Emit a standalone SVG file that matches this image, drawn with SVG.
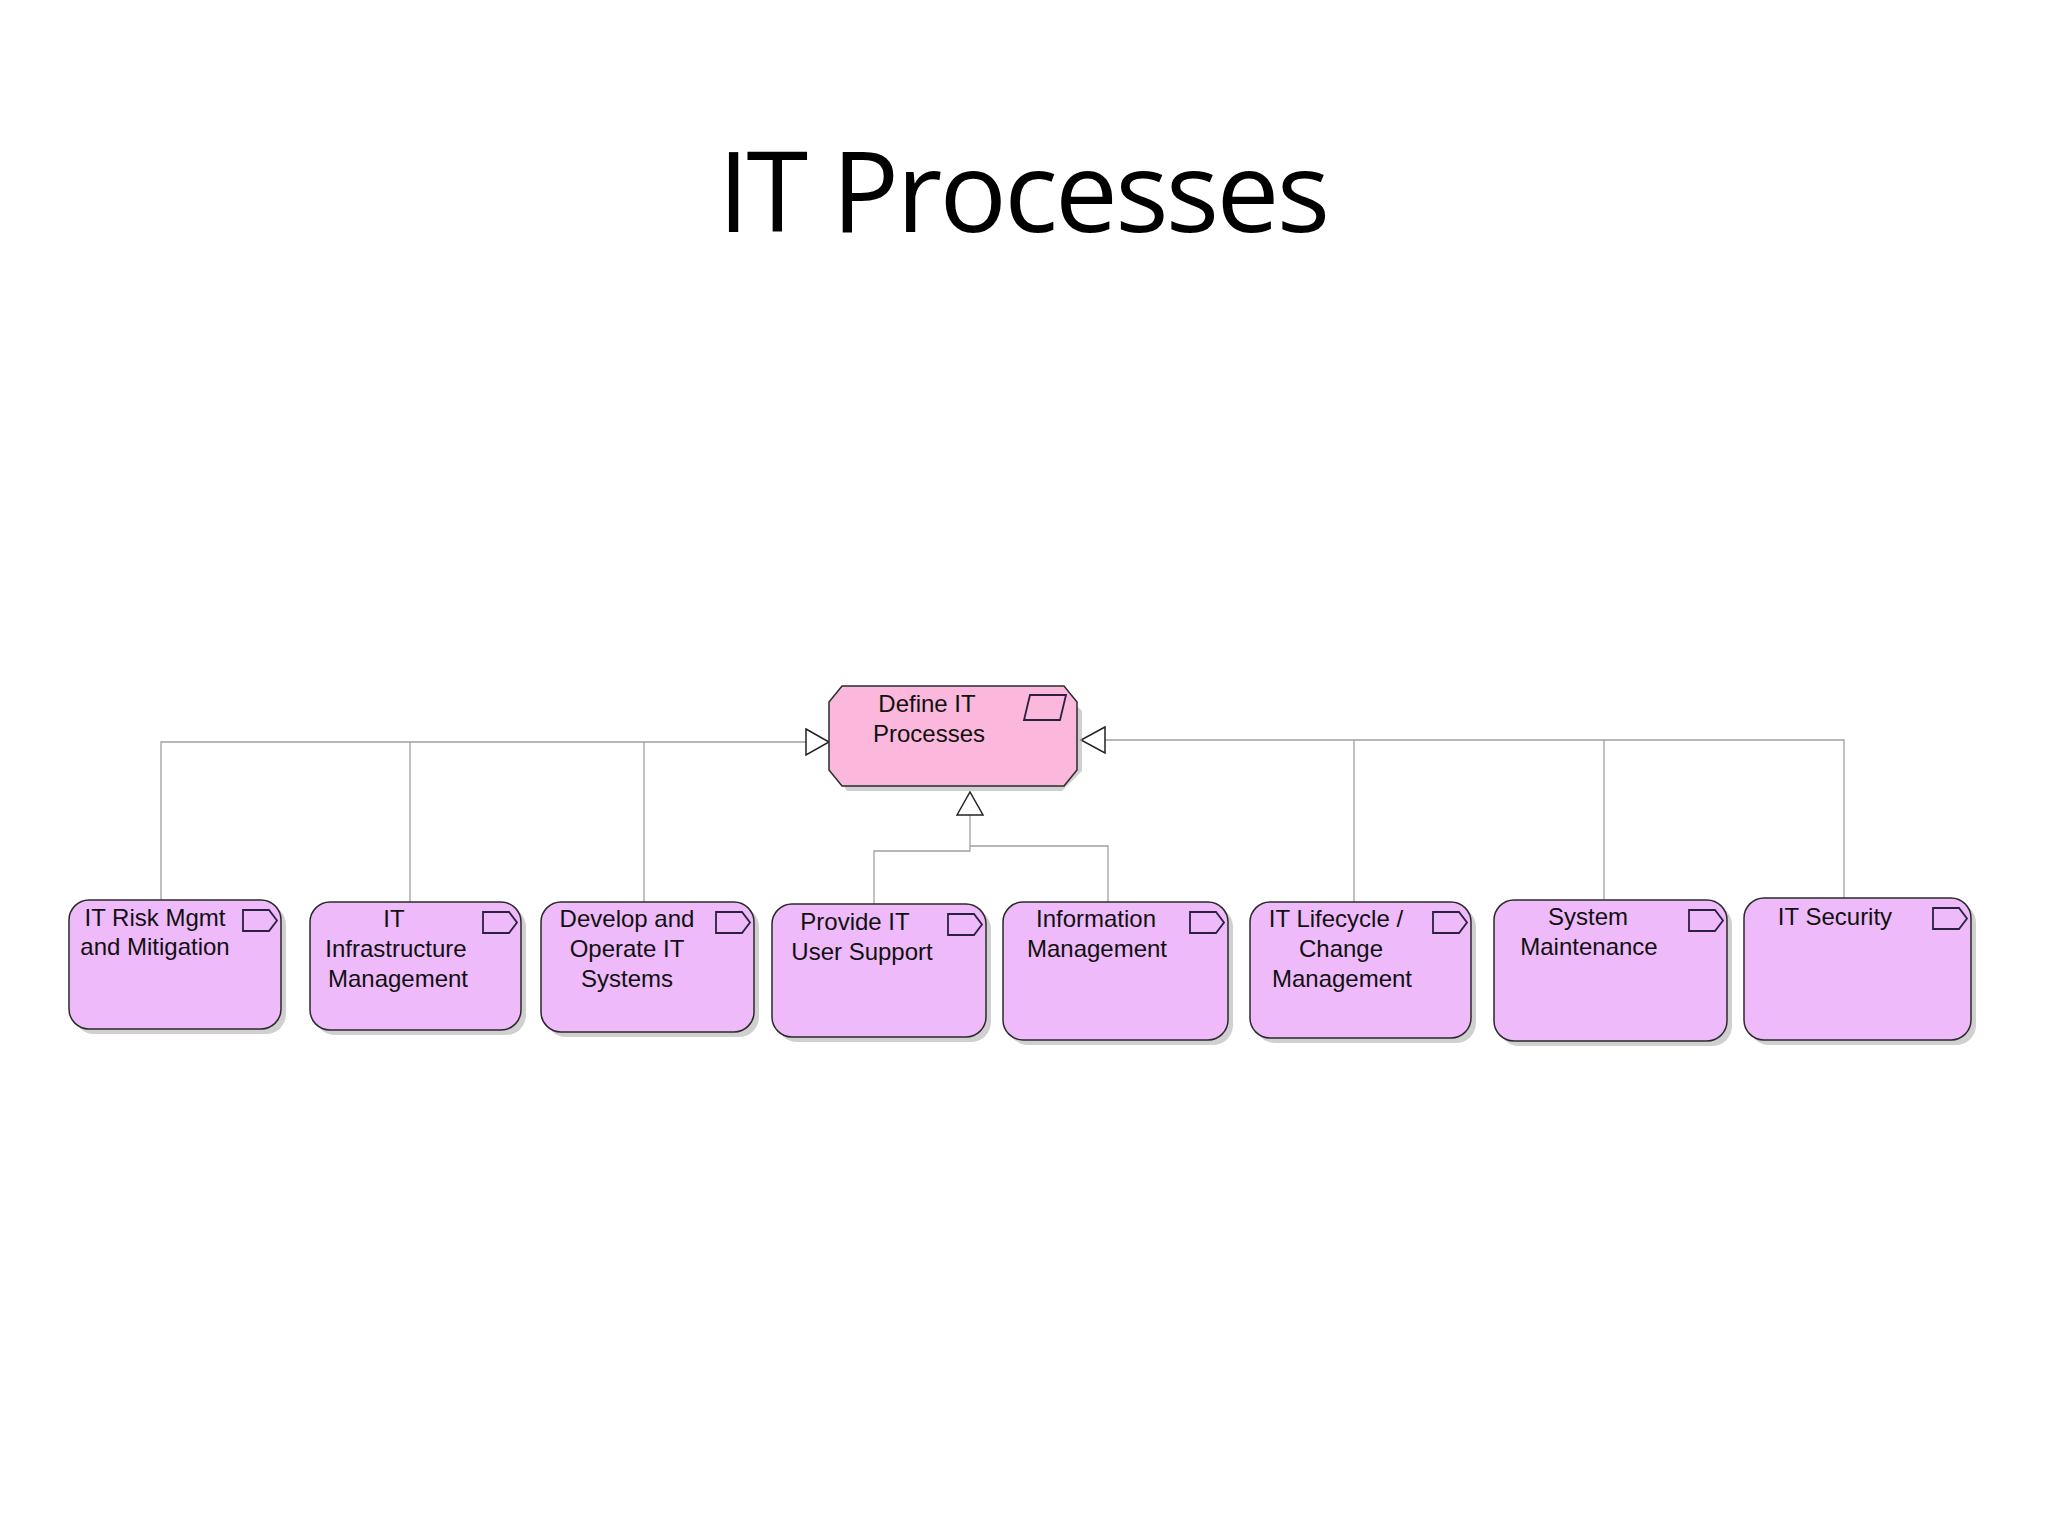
<svg xmlns="http://www.w3.org/2000/svg" width="2048" height="1536" viewBox="0 0 2048 1536">
<style>
.n{fill:#efbafa;stroke:#2a2a2a;stroke-width:1.5}
.sh{fill:#b0b0b0;opacity:.6}
.ic{fill:none;stroke:#2a2040;stroke-width:1.8}
.t{font-family:"Liberation Sans",Arial,sans-serif;font-size:24px;fill:#111;text-anchor:middle}
.c{fill:none;stroke:#a0a0a0;stroke-width:1.3}
.ah{fill:#fff;stroke:#222;stroke-width:1.5}
</style>
<defs>
<path id="icon" d="M0,0 H26 L34,10.5 L26,21 H0 Z" class="ic"/>
</defs>
<rect width="2048" height="1536" fill="#fff"/>
<text x="1024" y="232" font-family="'Open Sans',sans-serif" font-size="112" text-anchor="middle" textLength="612" fill="#000">IT Processes</text>
<g id="connectors">
<path class="c" d="M161,900 V742 H806 M410,902 V742 M644,902 V742"/>
<path class="c" d="M1105,740 H1844 V898 M1354,740 V902 M1604,740 V900"/>
<path class="c" d="M874,904 V851 H970 V815 M1108,902 V846 H970"/>
<path class="ah" d="M806,729 L829,742 L806,755 Z"/>
<path class="ah" d="M1105,727 L1081,740 L1105,753 Z"/>
<path class="ah" d="M957,815 L970,792 L983,815 Z"/>
</g>
<g id="define">
<path class="sh" d="M847,691 H1062 L1082,711 V771 L1062,791 H847 L834,771 V711 Z"/>
<path d="M842,686 H1064 L1077,702 V770 L1064,786 H842 L829,770 V702 Z" fill="#fcb8dc" stroke="#2a2a2a" stroke-width="1.5"/>
<path class="ic" d="M1030,695 H1066 L1060,720 H1024 Z"/>
<text class="t" x="927" y="712">Define IT</text>
<text class="t" x="929" y="742">Processes</text>
</g>
<g id="n1"><rect class="sh" x="74" y="905" width="212" height="129" rx="20"/><rect class="n" x="69" y="900" width="212" height="129" rx="20"/><use href="#icon" x="243" y="910"/><text class="t" x="155" y="926">IT Risk Mgmt</text><text class="t" x="155" y="955">and Mitigation</text></g>
<g id="n2"><rect class="sh" x="315" y="907" width="211" height="128" rx="20"/><rect class="n" x="310" y="902" width="211" height="128" rx="20"/><use href="#icon" x="483" y="912"/><text class="t" x="394" y="927">IT</text><text class="t" x="396" y="957">Infrastructure</text><text class="t" x="398" y="987">Management</text></g>
<g id="n3"><rect class="sh" x="546" y="907" width="213" height="130" rx="20"/><rect class="n" x="541" y="902" width="213" height="130" rx="20"/><use href="#icon" x="716" y="912"/><text class="t" x="627" y="927">Develop and</text><text class="t" x="627" y="957">Operate IT</text><text class="t" x="627" y="987">Systems</text></g>
<g id="n4"><rect class="sh" x="777" y="909" width="214" height="133" rx="20"/><rect class="n" x="772" y="904" width="214" height="133" rx="20"/><use href="#icon" x="948" y="914"/><text class="t" x="855" y="930">Provide IT</text><text class="t" x="862" y="960">User Support</text></g>
<g id="n5"><rect class="sh" x="1008" y="907" width="225" height="138" rx="20"/><rect class="n" x="1003" y="902" width="225" height="138" rx="20"/><use href="#icon" x="1190" y="912"/><text class="t" x="1096" y="927">Information</text><text class="t" x="1097" y="957">Management</text></g>
<g id="n6"><rect class="sh" x="1255" y="907" width="221" height="136" rx="20"/><rect class="n" x="1250" y="902" width="221" height="136" rx="20"/><use href="#icon" x="1433" y="912"/><text class="t" x="1336" y="927">IT Lifecycle /</text><text class="t" x="1341" y="957">Change</text><text class="t" x="1342" y="987">Management</text></g>
<g id="n7"><rect class="sh" x="1499" y="905" width="233" height="141" rx="20"/><rect class="n" x="1494" y="900" width="233" height="141" rx="20"/><use href="#icon" x="1689" y="910"/><text class="t" x="1588" y="925">System</text><text class="t" x="1589" y="955">Maintenance</text></g>
<g id="n8"><rect class="sh" x="1749" y="903" width="227" height="142" rx="20"/><rect class="n" x="1744" y="898" width="227" height="142" rx="20"/><use href="#icon" x="1933" y="908"/><text class="t" x="1835" y="925">IT Security</text></g>
</svg>
